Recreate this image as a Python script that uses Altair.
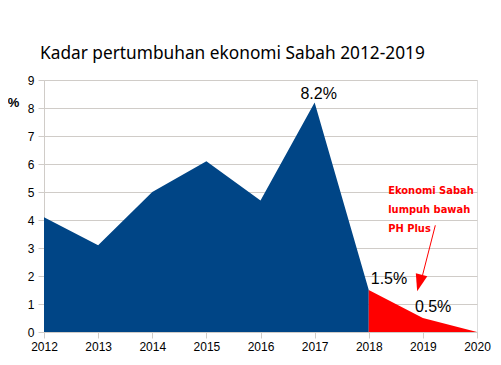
import altair as alt
import pandas as pd

years_blue = [2012, 2013, 2014, 2015, 2016, 2017, 2018]
growth_blue = [4.1, 3.1, 5.0, 6.1, 4.7, 8.2, 1.5]
years_red = [2018, 2019, 2020]
growth_red = [1.5, 0.5, 0.0]

label_years = [2017, 2018, 2019]
label_values = [8.2, 1.5, 0.5]
label_texts = ["8.2%", "1.5%", "0.5%"]

note_lines = ["Ekonomi Sabah", "lumpuh bawah", "PH Plus"]
note_pos = [2018.36, 4.92]
arrow_start = [2019.23, 3.81]
arrow_end = [2018.99, 2.0]
arrow_head = [2018.935, 1.75]

blue_df = pd.DataFrame({"year": years_blue, "growth": growth_blue})
red_df = pd.DataFrame({"year": years_red, "growth": growth_red})
lab_df = pd.DataFrame({"year": label_years, "growth": label_values, "text": label_texts})

GRID = "#d0ccc8"
xs = alt.Scale(domain=[2012, 2020], nice=False)
ys = alt.Scale(domain=[0, 9], nice=False)

x_axis = alt.Axis(values=list(range(2012, 2021)), format="d", grid=False,
                  domainColor=GRID, tickColor=GRID, tickSize=6,
                  labelPadding=3, labelFont="Liberation Sans", labelFontSize=12,
                  labelColor="black", labelFlush=False, labelOverlap=False)
y_axis = alt.Axis(values=list(range(0, 10)), grid=True, gridColor=GRID,
                  domainColor=GRID, tickColor=GRID, tickSize=6, labelPadding=4,
                  labelFont="Liberation Sans", labelFontSize=12, labelColor="black",
                  labelOverlap=False,
                  title="%", titleAngle=0, titleX=-31, titleY=22,
                  titleFont="Liberation Sans", titleFontSize=13,
                  titleFontWeight="bold", titleColor="black",
                  titleAlign="center", titleBaseline="middle")


def X(field):
    return alt.X(field, scale=xs, title=None, axis=x_axis)


def Y(field):
    return alt.Y(field, scale=ys, axis=y_axis)


blue = alt.Chart(blue_df).mark_area(color="#004586", opacity=1).encode(x=X("year:Q"), y=Y("growth:Q"))
red = alt.Chart(red_df).mark_area(color="#ff0000", opacity=1).encode(x=X("year:Q"), y=Y("growth:Q"))


def lab(i, align, dx, dy):
    return alt.Chart(lab_df.iloc[[i]]).mark_text(
        font="Liberation Sans", fontSize=16, color="black", align=align,
        baseline="alphabetic", dx=dx, dy=dy).encode(x=X("year:Q"), y=Y("growth:Q"), text="text:N")


labels = lab(0, "center", 4, -3) + lab(1, "left", 2, -6) + lab(2, "left", -8, -6)

note_df = pd.DataFrame({"x": [note_pos[0]], "y": [note_pos[1]], "t": [note_lines]})
note = alt.Chart(note_df).mark_text(
    font="DejaVu Sans Condensed", fontWeight="bold", fontSize=11, color="#ff0000",
    align="left", baseline="alphabetic", lineHeight=19).encode(x=X("x:Q"), y=Y("y:Q"), text="t")

arrow_df = pd.DataFrame({"x": [arrow_start[0]], "y": [arrow_start[1]],
                         "x2": [arrow_end[0]], "y2": [arrow_end[1]]})
arrow_line = alt.Chart(arrow_df).mark_rule(color="#ff0000", strokeWidth=1).encode(
    x=X("x:Q"), y=Y("y:Q"), x2="x2:Q", y2="y2:Q")
head_df = pd.DataFrame({"x": [arrow_head[0]], "y": [arrow_head[1]]})
arrow_tip = alt.Chart(head_df).mark_point(
    shape="M-0.7,-1L0.7,-1L0,1Z", filled=True, color="#ff0000", opacity=1,
    size=289, angle=15).encode(x=X("x:Q"), y=Y("y:Q"))

chart = alt.layer(blue, red, labels, note, arrow_line, arrow_tip).properties(
    width=433, height=252,
    autosize=alt.AutoSizeParams(type="none"),
    padding={"left": 36, "top": 72, "right": 16, "bottom": 25},
    title=alt.TitleParams("Kadar pertumbuhan ekonomi Sabah 2012-2019", anchor="start",
                          frame="group", dx=-4, dy=8, offset=6, baseline="alphabetic",
                          font="Noto Sans", fontSize=17.3, fontWeight="normal", color="black"),
).configure_view(stroke=None).configure(background="white")

chart.save("out.html", embed_options={"renderer": "svg", "actions": False})
